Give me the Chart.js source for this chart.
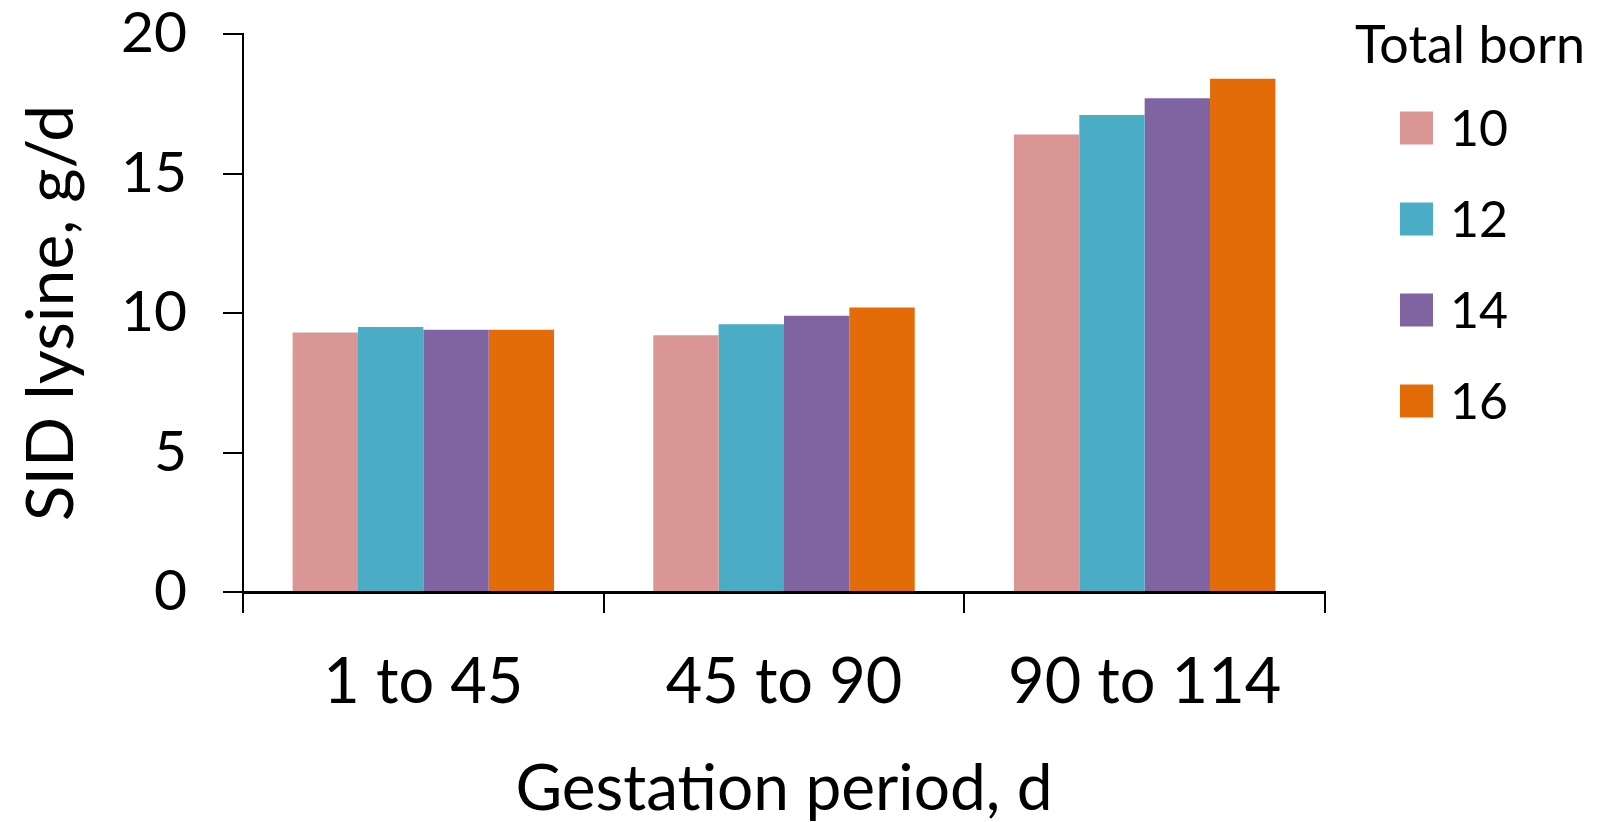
<!DOCTYPE html>
<html>
<head>
<meta charset="utf-8">
<script src="https://cdn.jsdelivr.net/npm/chart.js@4.4.1/dist/chart.umd.min.js"></script>
<style>
  body { margin: 0; background: #fff; }
  #wrap { width: 1598px; height: 822px; }
</style>
</head>
<body>
<div id="wrap"><canvas id="myChart"></canvas></div>
<script>
/*==== data ====*/
const periods = ['1 to 45', '45 to 90', '90 to 114'];
const totalBorn = ['10', '12', '14', '16'];
const born10 = [9.3, 9.2, 16.4];
const born12 = [9.5, 9.6, 17.1];
const born14 = [9.4, 9.9, 17.7];
const born16 = [9.4, 10.2, 18.4];
const yTicks = [0, 5, 10, 15, 20];
const colors = ['#D99694', '#4BACC6', '#8064A2', '#E36C09'];

const FONT = 'Lato, "Open Sans", sans-serif';

// legend on the right, drawn by hand so it sits where the original one is
const sideLegend = {
    id: 'sideLegend',
    afterDraw(chart) {
        const ctx = chart.ctx;
        ctx.save();
        ctx.fillStyle = '#000';
        ctx.textBaseline = 'middle';
        ctx.textAlign = 'left';
        ctx.font = '52px ' + FONT;
        ctx.fillText('Total born', 1355, 46);
        ctx.font = '50px ' + FONT;
        chart.data.datasets.forEach((ds, i) => {
            const cy = 128 + i * 91;
            ctx.fillStyle = ds.backgroundColor;
            ctx.fillRect(1400, cy - 16.5, 33, 33);
            ctx.fillStyle = '#000';
            ctx.fillText(ds.label, 1450, cy + 2);
        });
        ctx.restore();
    }
};

const series = [born10, born12, born14, born16];
const data = {
    labels: periods,
    datasets: totalBorn.map((lbl, i) => ({
        label: lbl,
        data: series[i],
        backgroundColor: colors[i],
        borderWidth: 0,
        categoryPercentage: 0.725,
        barPercentage: 1.0
    }))
};

const config = {
    type: 'bar',
    data,
    options: {
        responsive: true,
        maintainAspectRatio: false,
        animation: false,
        layout: { padding: { left: 0, right: 273, top: 0, bottom: 0 } },
        plugins: {
            legend: { display: false },
            tooltip: { enabled: false }
        },
        scales: {
            x: {
                grid: {
                    display: true,
                    offset: true,
                    drawOnChartArea: false,
                    drawTicks: true,
                    tickLength: 21,
                    color: '#000',
                    lineWidth: 2
                },
                border: { display: true, color: '#000', width: 3 },
                ticks: {
                    color: '#000',
                    padding: 38,
                    font: { family: FONT, size: 63, lineHeight: 1 }
                },
                title: {
                    display: true,
                    text: 'Gestation period, d',
                    color: '#000',
                    padding: { top: 0, bottom: 0 },
                    font: { family: FONT, size: 64, lineHeight: 1.03 }
                },
                afterFit(scale) { scale.height = 822 - 592; }
            },
            y: {
                min: 0,
                max: 20,
                afterBuildTicks(scale) { scale.ticks = yTicks.map(v => ({ value: v })); },
                grid: {
                    display: true,
                    drawOnChartArea: false,
                    drawTicks: true,
                    tickLength: 20,
                    color: '#000',
                    lineWidth: 2
                },
                border: { display: true, color: '#000', width: 2 },
                ticks: {
                    color: '#000',
                    padding: 36,
                    font: { family: FONT, size: 57, lineHeight: 1 }
                },
                title: {
                    display: true,
                    text: 'SID lysine, g/d',
                    color: '#000',
                    padding: { top: 12, bottom: 0 },
                    font: { family: FONT, size: 66, lineHeight: 1.2 }
                },
                afterFit(scale) {
                    scale.width = 243;
                    scale.paddingTop = 34;
                }
            }
        }
    },
    plugins: [sideLegend]
};

/*==== render ====*/
const myChart = new Chart(document.getElementById('myChart'), config);
</script>
</body>
</html>
